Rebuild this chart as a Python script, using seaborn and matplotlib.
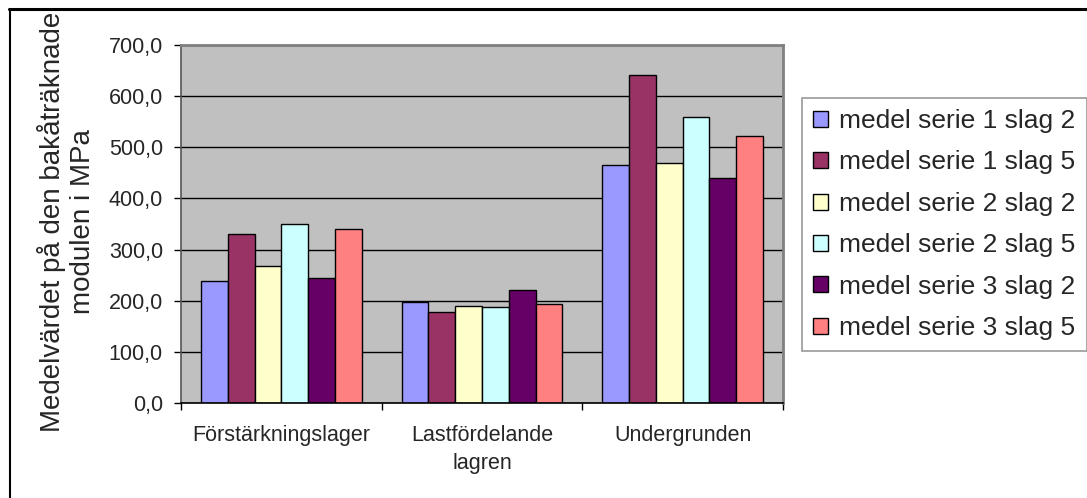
import numpy as np
import pandas as pd
import matplotlib
matplotlib.use("Agg")
import matplotlib.pyplot as plt
from matplotlib.lines import Line2D
from matplotlib.ticker import FuncFormatter, FixedLocator
import seaborn as sns

# Layers (categories) and series
lager = ["Förstärkningslager", "Lastfördelande\nlagren", "Undergrunden"]
serier = [
    "medel serie 1 slag 2",
    "medel serie 1 slag 5",
    "medel serie 2 slag 2",
    "medel serie 2 slag 5",
    "medel serie 3 slag 2",
    "medel serie 3 slag 5",
]

# Mean back-calculated modulus (MPa) per series and layer
s1_slag2 = [238, 197, 466]
s1_slag5 = [330, 177, 641]
s2_slag2 = [267, 190, 469]
s2_slag5 = [350, 187, 559]
s3_slag2 = [244, 220, 439]
s3_slag5 = [340, 193, 523]

yticks = [0, 100, 200, 300, 400, 500, 600, 700]

farger = ["#9999FF", "#993366", "#FFFFCC", "#CCFFFF", "#660066", "#FF8080"]

varden = [s1_slag2, s1_slag5, s2_slag2, s2_slag5, s3_slag2, s3_slag5]
rows = []
for namn, vals in zip(serier, varden):
    for lg, v in zip(lager, vals):
        rows.append({"lager": lg, "serie": namn, "modul": v})
df = pd.DataFrame(rows)

sns.set_theme(style="white")
plt.rcParams["font.family"] = ["Liberation Sans", "DejaVu Sans"]

W, H = 1087, 498
fig = plt.figure(figsize=(W / 100, H / 100), dpi=100)
fig.patch.set_facecolor("white")

x0, x1, y0, y1 = 181, 783, 45, 403
ax = fig.add_axes([x0 / W, 1 - y1 / H, (x1 - x0) / W, (y1 - y0) / H])
ax.set_facecolor("#C0C0C0")

sns.barplot(
    data=df, x="lager", y="modul", hue="serie",
    order=lager, hue_order=serier, palette=farger, saturation=1,
    edgecolor="black", linewidth=1.0, width=0.8, ax=ax,
)

ax.set_xlim(-0.5, 2.5)
ax.set_ylim(0, 700)

# Horizontal gridlines
ax.set_yticks(yticks)
ax.yaxis.set_major_formatter(FuncFormatter(lambda v, p: f"{v:.1f}".replace(".", ",")))
ax.grid(axis="y", color="black", linewidth=1.0)
ax.grid(axis="x", visible=False)
ax.set_axisbelow(True)

ax.tick_params(axis="y", which="major", direction="out", length=5, width=1,
               color="black", labelsize=15.5, pad=8, left=True)

# Category labels centred, tick marks between groups
ax.set_xticks([0, 1, 2])
ax.set_xticklabels(lager, fontsize=15.5, linespacing=1.4)
ax.tick_params(axis="x", which="major", length=0, pad=16)
ax.xaxis.set_minor_locator(FixedLocator([-0.5, 0.5, 1.5, 2.5]))
ax.tick_params(axis="x", which="minor", direction="out", length=5, width=1,
               color="black", bottom=True)

for side in ["top", "right"]:
    ax.spines[side].set_color("#808080")
    ax.spines[side].set_linewidth(2)
ax.spines["left"].set_color("#555555")
ax.spines["left"].set_linewidth(1.2)
ax.spines["bottom"].set_color("black")
ax.spines["bottom"].set_linewidth(1.2)

ax.set_xlabel("")
ax.set_ylabel("")

# Y axis title
fig.text(67 / W, 1 - 222 / H, "Medelvärdet på den bakåträknade\nmodulen i MPa",
         rotation=90, ha="center", va="center", multialignment="center",
         fontsize=20, linespacing=1.2)

# Legend
handles, labels = ax.get_legend_handles_labels()
ax.get_legend().remove()
leg = fig.legend(
    handles, labels, loc="upper left",
    bbox_to_anchor=(802 / W, 1 - 98 / H), bbox_transform=fig.transFigure,
    fontsize=19, frameon=True, fancybox=False, shadow=False,
    handlelength=0.55, handleheight=0.55, handletextpad=0.45,
    labelspacing=0.66, borderpad=0.42, borderaxespad=0,
)
leg.get_frame().set_edgecolor("#808080")
leg.get_frame().set_linewidth(1.2)
leg.get_frame().set_facecolor("white")
for h in leg.legend_handles:
    h.set_edgecolor("black")
    h.set_linewidth(1.0)

# Chart frame lines along top and left
fig.add_artist(Line2D([9 / W, 1], [1 - 9 / H, 1 - 9 / H], color="black", linewidth=2.2))
fig.add_artist(Line2D([10 / W, 10 / W], [0, 1 - 9 / H], color="black", linewidth=1.5))

fig.savefig("out.png", dpi=100, facecolor="white")
